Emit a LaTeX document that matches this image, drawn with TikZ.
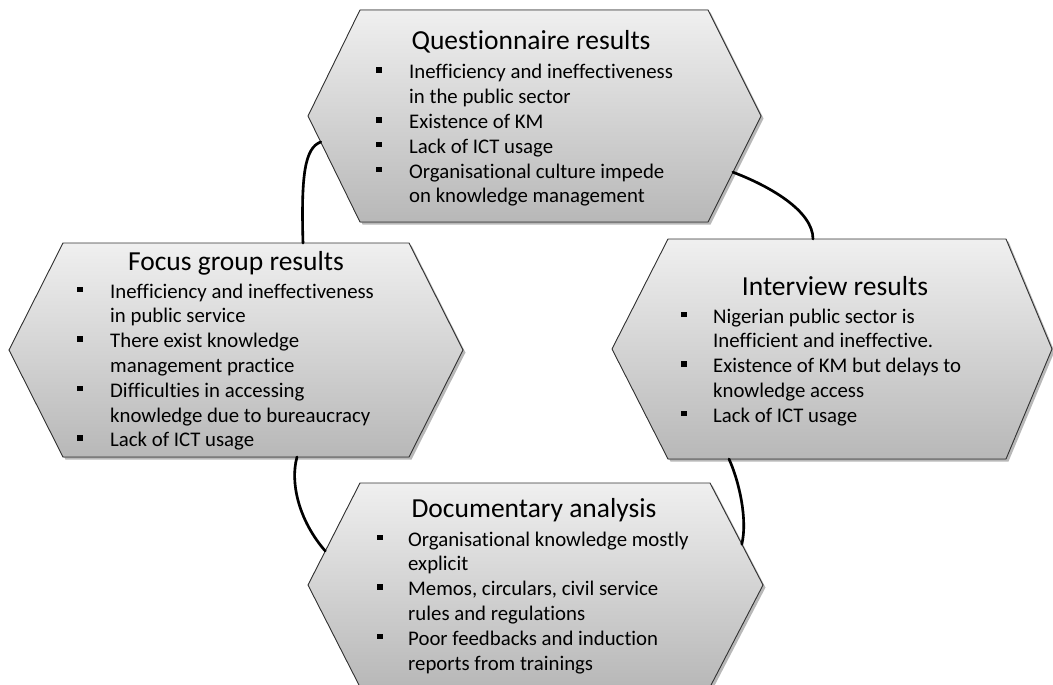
\documentclass[tikz,border=0pt]{standalone}
\usepackage{fontspec}
\setmainfont{Carlito}[Ligatures=NoCommon]
\usetikzlibrary{calc,shadows}

% small square bullet used in the lists
\newcommand\sqbullet{\rule[6pt]{5.5pt}{5.5pt}}
\newcommand\itm{\makebox[33pt][l]{\sqbullet}}

% hexagon frame: name, left tip x, top-left x, top-right x, right tip x, top y, bottom y
\newcommand\hexframe[7]{%
  \coordinate (#1-l)  at (#2,{(#6+#7)/2});
  \coordinate (#1-tl) at (#3,#6);
  \coordinate (#1-tr) at (#4,#6);
  \coordinate (#1-r)  at (#5,{(#6+#7)/2});
  \coordinate (#1-br) at (#4,#7);
  \coordinate (#1-bl) at (#3,#7);
  \filldraw[hexshape] (#1-tl) -- (#1-tr) -- (#1-r) -- (#1-br) -- (#1-bl) -- (#1-l) -- cycle;
}

\tikzset{
  hexshape/.style={draw=black!80, line width=0.9pt, line join=miter,
    top color=gray!12, bottom color=gray!56,
    drop shadow={shadow xshift=2.5pt, shadow yshift=-2.5pt, fill=black, opacity=0.28}},
  titletext/.style={anchor=base, inner sep=0pt, font=\fontsize{27.5}{32}\selectfont},
  listtext/.style={anchor=base west, inner sep=0pt, font=\fontsize{20.8}{24.8}\selectfont},
  link/.style={line width=2.6pt, black, line cap=round},
  linkshadow/.style={line width=2.6pt, black, opacity=0.25, line cap=round}
}

\begin{document}
\begin{tikzpicture}[x=1pt, y=-1pt]
\useasboundingbox (0,0) rectangle (1053,685);
\clip (0,0) rectangle (1053,685);

% the four result panels
\hexframe{Q}{308}{360}{708}{761}{10}{222}
\hexframe{F}{9}{63}{409}{463}{243}{457}
\hexframe{I}{612}{668}{1006}{1052}{239}{459}
\hexframe{D}{308}{360}{710}{763}{483}{687}

% questionnaire
\node[titletext] (qtitle) at (531,50) {Questionnaire results};
\node[listtext] (qlist) at (376,79) {\begin{tabular}[t]{@{}l@{}l@{}}
\itm & Inefficiency and ineffectiveness\\
     & in the public sector\\
\itm & Existence of KM\\
\itm & Lack of ICT usage\\
\itm & Organisational culture impede\\
     & on knowledge management
\end{tabular}};

% focus group
\node[titletext] (ftitle) at (236,270) {Focus group results};
\node[listtext] (flist) at (77,298) {\begin{tabular}[t]{@{}l@{}l@{}}
\itm & Inefficiency and ineffectiveness\\
     & in public service\\
\itm & There exist knowledge\\
     & management practice\\
\itm & Difficulties in accessing\\
     & knowledge due to bureaucracy\\
\itm & Lack of ICT usage
\end{tabular}};

% interview
\node[titletext] (ititle) at (835,295) {Interview results};
\node[listtext] (ilist) at (681,323) {\begin{tabular}[t]{@{}l@{}l@{}}
\makebox[32pt][l]{\sqbullet} & Nigerian public sector is\\
     & Inefficient and ineffective.\\
\makebox[32pt][l]{\sqbullet} & Existence of KM but delays to\\
     & knowledge access\\
\makebox[32pt][l]{\sqbullet} & Lack of ICT usage
\end{tabular}};

% documentary analysis
\node[titletext] (dtitle) at (534,517) {Documentary analysis};
\node[listtext] (dlist) at (377,546) {\begin{tabular}[t]{@{}l@{}l@{}}
\makebox[31pt][l]{\sqbullet} & Organisational knowledge mostly\\
     & explicit\\
\makebox[31pt][l]{\sqbullet} & Memos, circulars, civil service\\
     & rules and regulations\\
\makebox[31pt][l]{\sqbullet} & Poor feedbacks and induction\\
     & reports from trainings
\end{tabular}};

% attachment points of the links
\coordinate (c1a) at ($(Q-l)!0.245!(Q-bl)$);
\coordinate (c1b) at ($(F-tl)+(240,0)$);
\coordinate (c2a) at ($(Q-r)!0.53!(Q-br)$);
\coordinate (c2b) at ($(I-tl)+(145,0)$);
\coordinate (c3a) at ($(F-bl)+(234,0)$);
\coordinate (c3b) at ($(D-l)!0.333!(D-tl)$);
\coordinate (c4a) at ($(I-bl)+(61,0)$);
\coordinate (c4b) at ($(D-tr)!0.6!(D-r)$);

% curved links between the panels, each with a faint offset shadow
\begin{scope}[shift={(1.5,1.5)}]
\draw[linkshadow] (c1a) .. controls ($(c1a)+(-16,6)$) and ($(c1b)+(-2,-68)$) .. (c1b);
\draw[linkshadow] (c2a) .. controls ($(c2a)+(37,14)$) and ($(c2b)+(0,-28)$) .. (c2b);
\draw[linkshadow] (c3a) .. controls ($(c3a)+(-7,25)$) and ($(c3b)+(-27,-31)$) .. (c3b);
\draw[linkshadow] (c4a) .. controls ($(c4a)+(10,22)$) and ($(c4b)+(6,-25)$) .. (c4b);
\end{scope}
\draw[link] (c1a) .. controls ($(c1a)+(-16,6)$) and ($(c1b)+(-2,-68)$) .. (c1b);
\draw[link] (c2a) .. controls ($(c2a)+(37,14)$) and ($(c2b)+(0,-28)$) .. (c2b);
\draw[link] (c3a) .. controls ($(c3a)+(-7,25)$) and ($(c3b)+(-27,-31)$) .. (c3b);
\draw[link] (c4a) .. controls ($(c4a)+(10,22)$) and ($(c4b)+(6,-25)$) .. (c4b);
\end{tikzpicture}
\end{document}
